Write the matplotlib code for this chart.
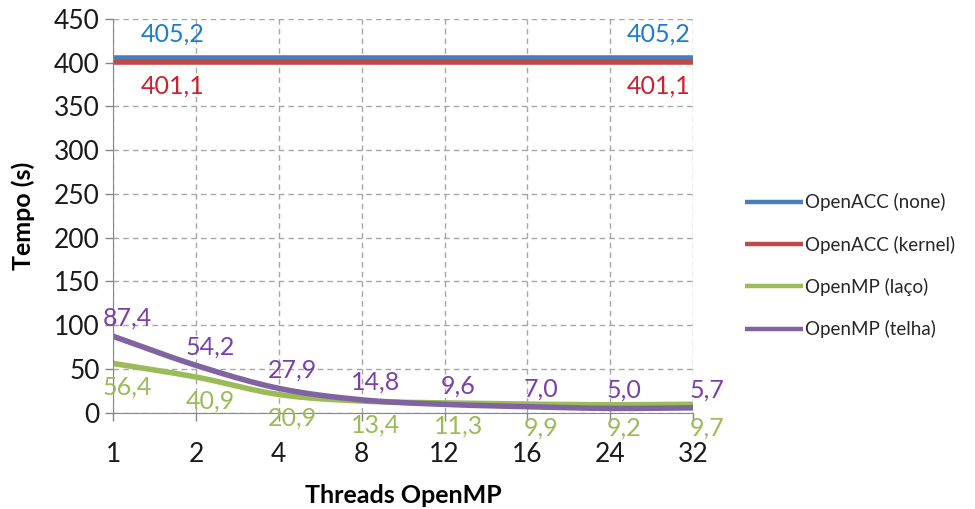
import numpy as np
import matplotlib
matplotlib.use("Agg")
import matplotlib.pyplot as plt

plt.rcParams['font.family'] = ['Lato', 'DejaVu Sans']

# dados
threads = ["1", "2", "4", "8", "12", "16", "24", "32"]
acc_none = [405.2] * 8
acc_kernel = [401.1] * 8
omp_laco = [56.4, 40.9, 20.9, 13.4, 11.3, 9.9, 9.2, 9.7]
omp_telha = [87.4, 54.2, 27.9, 14.8, 9.6, 7.0, 5.0, 5.7]

c_blue, c_red, c_green, c_purple = "#4A7EBB", "#BE4B48", "#9BBB59", "#8064A2"
t_blue, t_red, t_green, t_purple = "#1C7CD5", "#D0202E", "#9BBB59", "#7A3FA8"


def smooth(x, y, n=30):
    # catmull-rom, parecido com a linha suavizada do excel
    x = np.asarray(x, float)
    y = np.asarray(y, float)
    px = np.concatenate([[2 * x[0] - x[1]], x, [2 * x[-1] - x[-2]]])
    py = np.concatenate([[2 * y[0] - y[1]], y, [2 * y[-1] - y[-2]]])
    xs, ys = [], []
    t = np.linspace(0, 1, n)
    for i in range(1, len(px) - 2):
        for p, out in ((px, xs), (py, ys)):
            p0, p1, p2, p3 = p[i - 1], p[i], p[i + 1], p[i + 2]
            out.append(0.5 * ((2 * p1) + (-p0 + p2) * t
                              + (2 * p0 - 5 * p1 + 4 * p2 - p3) * t ** 2
                              + (-p0 + 3 * p1 - 3 * p2 + p3) * t ** 3))
    return np.concatenate(xs), np.concatenate(ys)


fig = plt.figure(figsize=(9.75, 5.09), dpi=100)
ax = fig.add_axes([0.116, 0.189, 0.595, 0.774])

x = np.arange(len(threads))
series = [
    ("OpenACC (none)", acc_none, c_blue),
    ("OpenACC (kernel)", acc_kernel, c_red),
    ("OpenMP (laço)", omp_laco, c_green),
    ("OpenMP (telha)", omp_telha, c_purple),
]
for name, vals, col in series:
    sx, sy = smooth(x, vals)
    ax.plot(sx, sy, color=col, lw=4, label=name, solid_capstyle='butt')

fs = 18
# rótulos OpenACC só nas pontas
for vals, col, dy, va in ((acc_none, t_blue, 9, 'bottom'), (acc_kernel, t_red, -9, 'top')):
    ax.annotate(f"{vals[0]:.1f}".replace(".", ","), (x[0], vals[0]), xytext=(20, dy),
                textcoords='offset points', ha='left', va=va, color=col, fontsize=fs)
    ax.annotate(f"{vals[-1]:.1f}".replace(".", ","), (x[-1], vals[-1]), xytext=(-2, dy),
                textcoords='offset points', ha='right', va=va, color=col, fontsize=fs)

for i, v in enumerate(omp_telha):
    ax.annotate(f"{v:.1f}".replace(".", ","), (x[i], v), xytext=(10, 13),
                textcoords='offset points', ha='center', va='center', color=t_purple, fontsize=fs)
for i, v in enumerate(omp_laco):
    ax.annotate(f"{v:.1f}".replace(".", ","), (x[i], v), xytext=(10, -17),
                textcoords='offset points', ha='center', va='center', color=t_green, fontsize=fs)

ax.set_xlim(0, len(threads) - 1)
ax.set_ylim(0, 450)
ax.set_yticks(np.arange(0, 451, 50))
ax.set_xticks(x)
ax.set_xticklabels(threads)

ax.grid(True, color="#A6A6A6", ls=(0, (4, 3)), lw=1)
ax.set_axisbelow(True)
for s in ("top", "right"):
    ax.spines[s].set_visible(False)
for s in ("left", "bottom"):
    ax.spines[s].set_color("#868686")
ax.tick_params(axis='both', colors="#868686", labelcolor="#1A1A1A", labelsize=19,
               length=6, width=1, direction='out')
ax.tick_params(axis='x', pad=15)

ax.set_ylabel("Tempo (s)", fontsize=18, fontweight='bold', labelpad=14)
ax.set_xlabel("Threads OpenMP", fontsize=18, fontweight='bold', labelpad=12)

leg = fig.legend(loc='center left', bbox_to_anchor=(0.747, 0.478), frameon=False,
                 fontsize=13.5, handlelength=3.1, handletextpad=0.1, labelspacing=1.3)
for line in leg.get_lines():
    line.set_linewidth(3.2)
for t in leg.get_texts():
    t.set_color("#262626")

fig.savefig("out.png", dpi=100)
